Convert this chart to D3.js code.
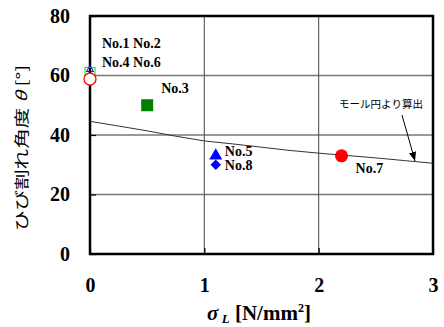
<!DOCTYPE html>
<html>
<head>
<meta charset="utf-8">
<script src="https://cdn.jsdelivr.net/npm/d3@7"></script>
<style>
  body { margin: 0; background: #fff; }
</style>
</head>
<body>
<div id="chart"></div>
<script>
var SERIF = "'Liberation Serif', serif";
var JP = "'Noto Sans CJK JP', sans-serif";

// tick labels
var xTicks = [0, 1, 2, 3];
var yTicks = [0, 20, 40, 60, 80];

// measured points
var openSquare = [[0, 61]];          // green, open
var openCircle = [[0, 58.8]];        // red, open
var smallTri = [[0, 62]];            // blue, small
var greenSquare = [[0.5, 50]];       // No.3
var blueTri = [[1.1, 33]];           // No.5
var blueDiamond = [[1.1, 30]];       // No.8
var redCircle = [[2.2, 33]];         // No.7

// curve from Mohr's circle
var mohrX = [0, 0.25, 0.5, 0.75, 1, 1.25, 1.5, 1.75, 2, 2.25, 2.5, 2.75, 3];
var mohrY = [44.6, 43, 41.4, 39.6, 38.0, 37, 35.9, 34.8, 33.9, 33.1, 32.3, 31.4, 30.5];

var labels = [
  {t: "No.1 No.2", x: 0, y: 60, dx: 12, dy: -28},
  {t: "No.4 No.6", x: 0, y: 60, dx: 12, dy: -9},
  {t: "No.3", x: 0.5, y: 50, dx: 14, dy: -12},
  {t: "No.5", x: 1.1, y: 33, dx: 9, dy: 0},
  {t: "No.8", x: 1.1, y: 30, dx: 9, dy: 5},
  {t: "No.7", x: 2.2, y: 33, dx: 14, dy: 17}
];

var W = 444, H = 327;
var svg = d3.select("#chart").append("svg").attr("width", W).attr("height", H);

var x = d3.scaleLinear().domain([0, 3]).range([90, 433]);
var y = d3.scaleLinear().domain([0, 80]).range([254, 16]);

// grid
svg.selectAll(".gy").data([20, 40, 60]).enter().append("line")
  .attr("x1", x(0)).attr("x2", x(3))
  .attr("y1", function(d) { return y(d); }).attr("y2", function(d) { return y(d); })
  .attr("stroke", "#777").attr("stroke-width", 1.3);
svg.selectAll(".gx").data([1, 2]).enter().append("line")
  .attr("y1", y(0)).attr("y2", y(80))
  .attr("x1", function(d) { return x(d); }).attr("x2", function(d) { return x(d); })
  .attr("stroke", "#555").attr("stroke-width", 1.1);

// axes with inward ticks
var xAxis = svg.append("g").attr("transform", "translate(0," + y(0) + ")")
  .call(d3.axisBottom(x).tickValues(xTicks).tickSize(-6).tickFormat(d3.format("d")).tickPadding(24));
var yAxis = svg.append("g").attr("transform", "translate(" + x(0) + ",0)")
  .call(d3.axisLeft(y).tickValues(yTicks).tickSize(-6).tickPadding(20));
[xAxis, yAxis].forEach(function(g) {
  g.select(".domain").remove();
  g.selectAll(".tick line").attr("stroke", "#000").attr("stroke-width", 1.2);
  g.selectAll(".tick text").style("font-family", SERIF)
    .attr("font-weight", "bold").attr("font-size", 20).attr("fill", "#000");
});

// frame
svg.append("rect").attr("x", x(0)).attr("y", y(80))
  .attr("width", x(3) - x(0)).attr("height", y(0) - y(80))
  .attr("fill", "none").attr("stroke", "#000").attr("stroke-width", 2.5);

// curve
var mohr = mohrX.map(function(v, i) { return [v, mohrY[i]]; });
svg.append("path").datum(mohr)
  .attr("d", d3.line().x(function(d) { return x(d[0]); }).y(function(d) { return y(d[1]); }))
  .attr("fill", "none").attr("stroke", "#333").attr("stroke-width", 1);

// markers
function place(d) { return "translate(" + x(d[0]) + "," + y(d[1]) + ")"; }
svg.selectAll(".os").data(openSquare).enter().append("rect")
  .attr("x", function(d) { return x(d[0]) - 5; }).attr("width", 10).attr("height", 10)
  .attr("y", function(d) { return y(d[1]) - 5; })
  .attr("fill", "none").attr("stroke", "#33dd33").attr("stroke-width", 1.2);
svg.selectAll(".st").data(smallTri).enter().append("path")
  .attr("transform", place)
  .attr("d", d3.symbol().type(d3.symbolTriangle).size(22))
  .attr("fill", "none").attr("stroke", "#0000ff").attr("stroke-width", 1);
svg.selectAll(".oc").data(openCircle).enter().append("circle")
  .attr("cx", function(d) { return x(d[0]); }).attr("cy", function(d) { return y(d[1]); })
  .attr("r", 6).attr("fill", "#fff").attr("stroke", "#ff0000").attr("stroke-width", 1.3);
svg.selectAll(".gs").data(greenSquare).enter().append("rect")
  .attr("x", function(d) { return x(d[0]) - 6; }).attr("y", function(d) { return y(d[1]) - 6; })
  .attr("width", 12).attr("height", 12).attr("fill", "#008000");
svg.selectAll(".bt").data(blueTri).enter().append("path")
  .attr("transform", place)
  .attr("d", d3.symbol().type(d3.symbolTriangle).size(75)).attr("fill", "#0000ff");
svg.selectAll(".bd").data(blueDiamond).enter().append("path")
  .attr("transform", function(d) { return place(d) + " rotate(45)"; })
  .attr("d", d3.symbol().type(d3.symbolSquare).size(55)).attr("fill", "#0000ff");
svg.selectAll(".rc").data(redCircle).enter().append("circle")
  .attr("cx", function(d) { return x(d[0]); }).attr("cy", function(d) { return y(d[1]); })
  .attr("r", 6.5).attr("fill", "#ff0000");

// point labels
svg.selectAll(".lbl").data(labels).enter().append("text")
  .style("font-family", SERIF)
  .attr("x", function(d) { return x(d.x) + d.dx; })
  .attr("y", function(d) { return y(d.y) + d.dy; })
  .attr("font-weight", "bold").attr("font-size", 14).attr("fill", "#000")
  .text(function(d) { return d.t; });

// annotation with arrow
svg.append("defs").append("marker").attr("id", "ah")
  .attr("viewBox", "0 0 10 10").attr("refX", 10).attr("refY", 5)
  .attr("markerWidth", 9).attr("markerHeight", 9).attr("orient", "auto")
  .append("path").attr("d", "M0,1 L10,5 L0,9 Z").attr("fill", "#000");
svg.append("text").style("font-family", JP).attr("x", 381).attr("y", 108)
  .attr("text-anchor", "middle").attr("font-size", 10.5)
  .text("モール円より算出");
svg.append("line").attr("x1", 402).attr("y1", 115).attr("x2", 415).attr("y2", 161)
  .attr("stroke", "#000").attr("stroke-width", 1).attr("marker-end", "url(#ah)");

// x title
var xt = svg.append("text").style("font-family", SERIF).attr("x", 259).attr("y", 320)
  .attr("text-anchor", "middle").attr("font-weight", "bold").attr("font-size", 21);
xt.append("tspan").attr("font-style", "italic").text("σ");
xt.append("tspan").attr("font-style", "italic").attr("font-size", 13).attr("dy", 3).text(" L");
xt.append("tspan").attr("dy", -3).text(" [N/mm");
xt.append("tspan").attr("font-size", 12).attr("dy", -8).text("2");
xt.append("tspan").attr("dy", 8).text("]");

// y title (glyphs are stretched along the text direction in the original)
var yt = svg.append("text").style("font-family", JP)
  .attr("transform", "translate(27,148) rotate(-90) scale(1.42,1)")
  .attr("text-anchor", "middle").attr("font-size", 14.5);
yt.append("tspan").text("ひび割れ角度 ");
yt.append("tspan").attr("font-style", "italic").text("θ");
yt.append("tspan").text(" [°]");
</script>
</body>
</html>
